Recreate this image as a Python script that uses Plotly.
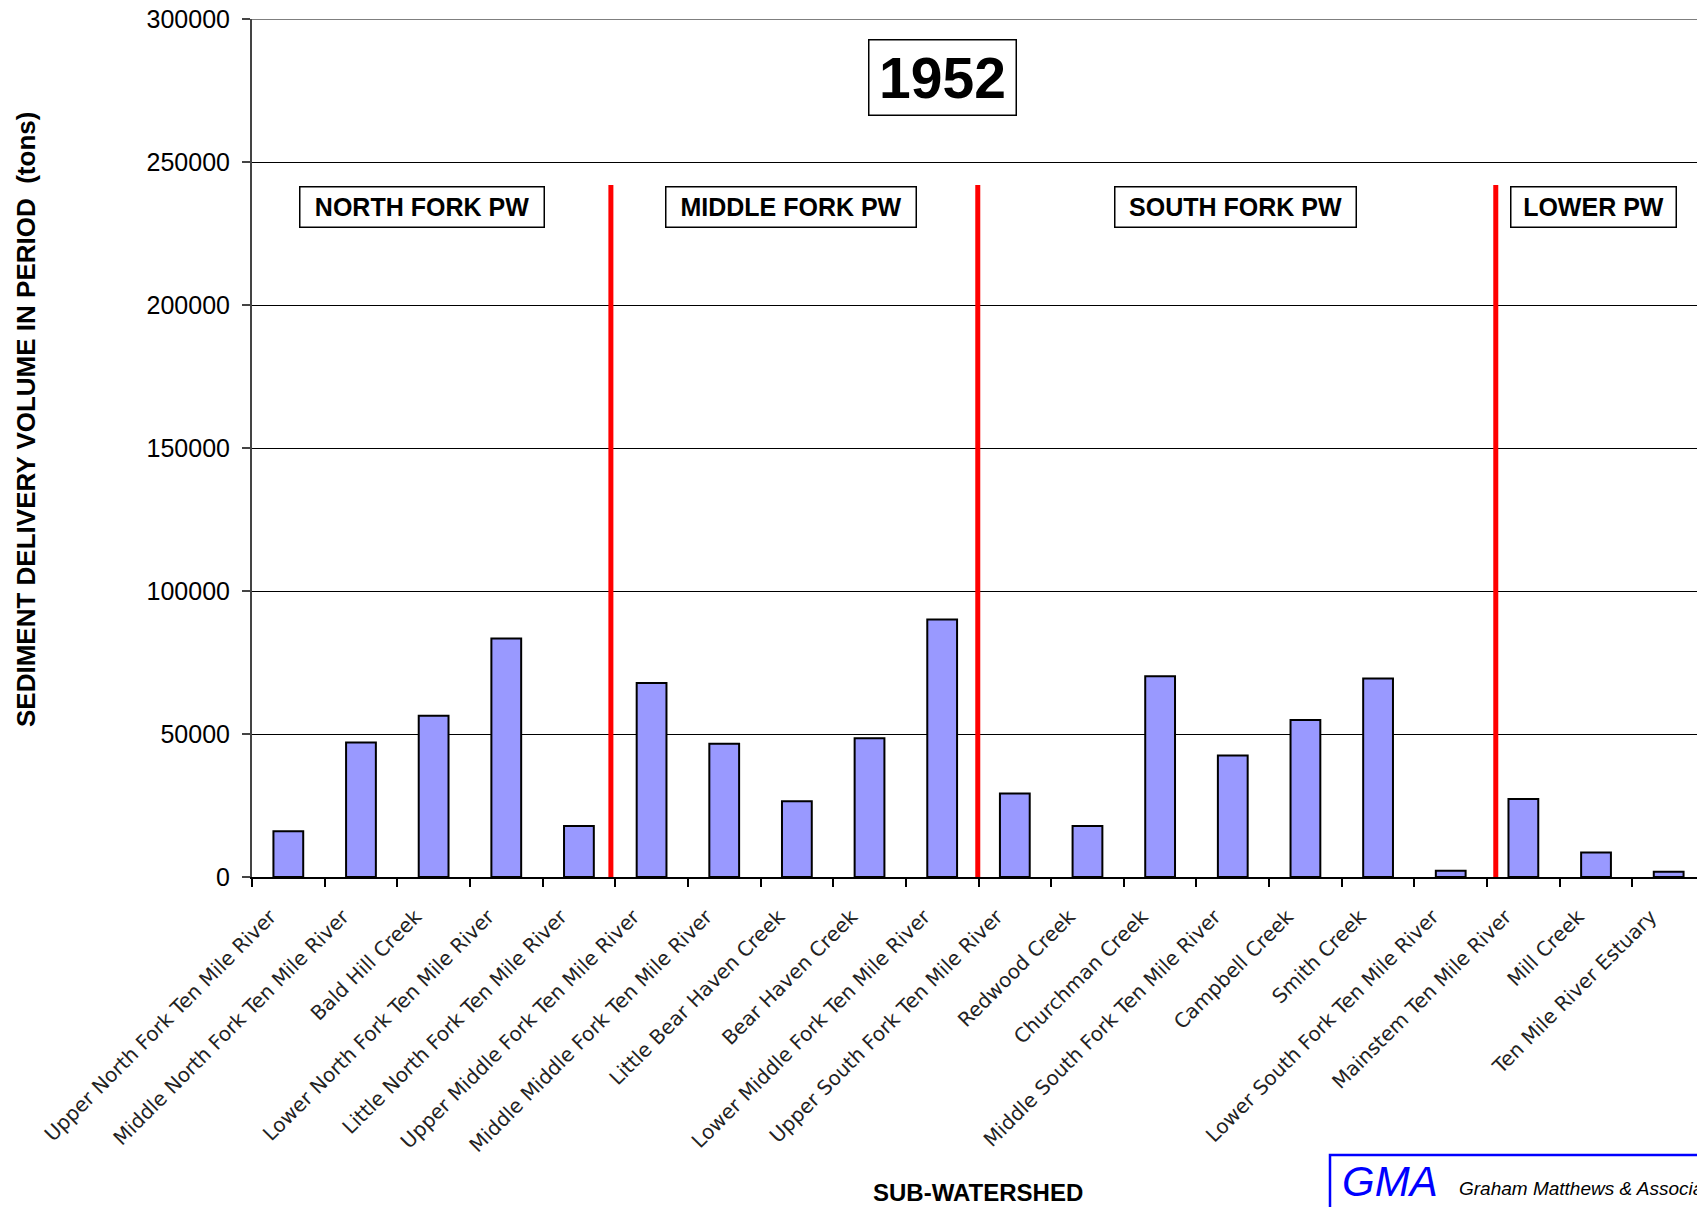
import plotly.graph_objects as go

categories = [
    "Upper North Fork Ten Mile River",
    "Middle North Fork Ten Mile River",
    "Bald Hill Creek",
    "Lower North Fork Ten Mile River",
    "Little North Fork Ten Mile River",
    "Upper Middle Fork Ten Mile River",
    "Middle Middle Fork Ten Mile River",
    "Little Bear Haven Creek",
    "Bear Haven Creek",
    "Lower Middle Fork Ten Mile River",
    "Upper South Fork Ten Mile River",
    "Redwood Creek",
    "Churchman Creek",
    "Middle South Fork Ten Mile River",
    "Campbell Creek",
    "Smith Creek",
    "Lower South Fork Ten Mile River",
    "Mainstem Ten Mile River",
    "Mill Creek",
    "Ten Mile River Estuary",
]
sediment_tons = [
    16000, 47000, 56400, 83400, 17800,
    67800, 46600, 26500, 48500, 90000,
    29200, 17800, 70200, 42500, 54900,
    69400, 2200, 27300, 8600, 1800,
]
y_ticks = [0, 50000, 100000, 150000, 200000, 250000, 300000]

group_labels = ["NORTH FORK PW", "MIDDLE FORK PW", "SOUTH FORK PW", "LOWER PW"]
divider_positions = [4.44, 9.49, 16.62]  # in category index units

# page offset (browser body margin)
O = 8
W, H = 1705 - O, 1207 - O
# plot area in page pixels
PL, PR, PT, PB = 252, 1705, 19, 877
L, T = PL - O, PT - O
R = W - (PR - O)
B = H - (PB - O)
pw, ph = W - L - R, H - T - B

def px(xp):
    return (xp - PL) / pw

def py(yp):
    return (PB - yp) / ph

fig = go.Figure()
fig.add_trace(go.Bar(
    x=categories, y=sediment_tons,
    marker=dict(color="#9999FF", line=dict(color="black", width=2)),
    width=0.41,
))

shapes = []
# top gridline (at range edge)
shapes.append(dict(type="line", xref="paper", yref="y", x0=0, x1=1,
                   y0=y_ticks[-1], y1=y_ticks[-1], line=dict(color="black", width=1)))
for xd in divider_positions:
    shapes.append(dict(type="line", xref="x", yref="y", x0=xd, x1=xd,
                       y0=-600, y1=242000, line=dict(color="#FF0000", width=5)))
# logo box
shapes.append(dict(type="rect", xref="paper", yref="paper",
                   x0=px(1330), x1=px(1740), y0=py(1155), y1=py(1240),
                   line=dict(color="#0000FF", width=2.5), fillcolor="rgba(0,0,0,0)"))

annotations = []
annotations.append(dict(text="<b>1952</b>", xref="paper", yref="paper",
                        x=px(942), y=py(77), xanchor="center", yanchor="middle",
                        showarrow=False, font=dict(family="Liberation Sans, Arial", size=57, color="black"),
                        bordercolor="black", borderwidth=1.5, borderpad=0,
                        width=146, height=74, bgcolor="white"))
group_centers = [422, 791, 1235, 1593]
group_widths = [243, 249, 240, 164]
for lab, cx, w in zip(group_labels, group_centers, group_widths):
    annotations.append(dict(text="<b>%s</b>" % lab, xref="paper", yref="paper",
                            x=px(cx), y=py(207), xanchor="center", yanchor="middle",
                            showarrow=False, font=dict(family="Liberation Sans, Arial", size=25, color="black"),
                            bordercolor="black", borderwidth=1.5, borderpad=0,
                            width=w, height=39, bgcolor="white"))
annotations.append(dict(text="<b>SEDIMENT DELIVERY VOLUME IN PERIOD  (tons)</b>",
                        xref="paper", yref="paper", x=px(26), y=py(420),
                        xanchor="center", yanchor="middle", textangle=-90, showarrow=False,
                        font=dict(family="Liberation Sans, Arial", size=26, color="black")))
annotations.append(dict(text="<b>SUB-WATERSHED</b>", xref="paper", yref="paper",
                        x=px(978), y=py(1192), xanchor="center", yanchor="middle", showarrow=False,
                        font=dict(family="Liberation Sans, Arial", size=24, color="black")))
annotations.append(dict(text="<i>GMA</i>", xref="paper", yref="paper",
                        x=px(1340), y=py(1181), xanchor="left", yanchor="middle", showarrow=False,
                        font=dict(family="Liberation Sans, Arial", size=42, color="#0000FF")))
annotations.append(dict(text="<i>Graham Matthews & Associates</i>", xref="paper", yref="paper",
                        x=px(1457), y=py(1188), xanchor="left", yanchor="middle", showarrow=False,
                        font=dict(family="Liberation Sans, Arial", size=19, color="black")))

fig.update_layout(
    width=W, height=H,
    margin=dict(l=L, r=R, t=T, b=B, autoexpand=False),
    paper_bgcolor="white", plot_bgcolor="white",
    showlegend=False,
    shapes=shapes,
    annotations=annotations,
    xaxis=dict(
        type="category", range=[-0.5, len(categories) - 0.5],
        tickangle=-45, tickson="boundaries", ticks="outside", ticklen=8,
        tickcolor="black", tickwidth=1.5,
        ticklabelshift=-18, ticklabelstandoff=18,
        showline=True, linecolor="black", linewidth=2,
        showgrid=False,
        tickfont=dict(family="Verdana, DejaVu Sans", size=20, color="#222222"),
    ),
    yaxis=dict(
        range=[0, 300000], tickvals=y_ticks, ticktext=[str(v) for v in y_ticks],
        ticks="outside", ticklen=8, tickcolor="#444444", tickwidth=1.5,
        ticklabelstandoff=7, ticklabeloverflow="allow",
        showline=True, linecolor="#444444", linewidth=2,
        showgrid=True, gridcolor="black", gridwidth=1,
        zeroline=False,
        tickfont=dict(family="Liberation Sans, Arial", size=25, color="black"),
    ),
)

fig.write_html("out.html")
